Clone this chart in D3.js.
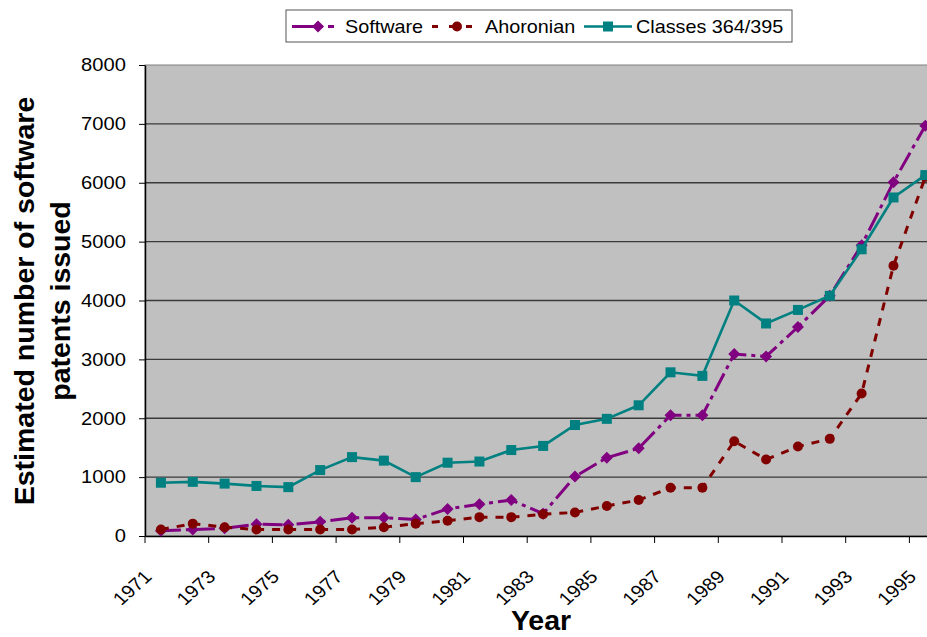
<!DOCTYPE html>
<html>
<head>
<meta charset="utf-8">
<script src="https://cdn.jsdelivr.net/npm/d3@7"></script>
<style>
  html, body { margin: 0; padding: 0; background: #ffffff; }
  svg { display: block; font-family: "Liberation Sans", Arial, sans-serif; }
</style>
</head>
<body>
<svg id="chart" width="927" height="637"></svg>
<script>
// ---- data ----
const years = [1971,1972,1973,1974,1975,1976,1977,1978,1979,1980,1981,1982,1983,1984,1985,1986,1987,1988,1989,1990,1991,1992,1993,1994,1995];
const software = [90,110,130,200,190,240,310,310,280,460,540,610,380,1010,1330,1490,2050,2050,3090,3050,3550,4080,4940,6010,6970];
const ahoronian = [110,210,150,110,110,110,110,150,210,260,320,320,370,400,510,610,820,820,1610,1300,1520,1650,2420,4590,6100];
const classes = [905,920,890,850,830,1120,1340,1280,1000,1245,1265,1460,1530,1885,1990,2220,2780,2720,4000,3610,3840,4080,4870,5750,6130];
const seriesNames = ["Software", "Ahoronian", "Classes 364/395"];
const yTicks = [0,1000,2000,3000,4000,5000,6000,7000,8000];
const xTickYears = [1971,1973,1975,1977,1979,1981,1983,1985,1987,1989,1991,1993,1995];

// ---- layout ----
const svg = d3.select("#chart");
const plotLeft = 145, plotTop = 65, plotBottom = 536;
const bandW = 31.85;
const plotRight = plotLeft + bandW * years.length;
const FONT = "'Liberation Sans', Arial, sans-serif";
const SX = 1.12; // horizontal widening of the small text

const x = d3.scaleBand().domain(years).range([plotLeft, plotRight]).paddingInner(0).paddingOuter(0);
const y = d3.scaleLinear().domain([0, 8000]).range([plotBottom, plotTop]);
const cx = d => x(d) + x.bandwidth() / 2;

// plot background
svg.append("rect").attr("x", plotLeft).attr("y", plotTop).attr("width", plotRight - plotLeft).attr("height", plotBottom - plotTop)
  .attr("fill", "#c0c0c0").attr("stroke", "#808080").attr("stroke-width", 1);

// gridlines
svg.append("g").selectAll("line").data(yTicks.filter(t => t > 0 && t < 8000)).join("line")
  .attr("x1", plotLeft).attr("x2", plotRight)
  .attr("y1", d => y(d)).attr("y2", d => y(d))
  .attr("stroke", "#3a3a3a").attr("stroke-width", 1.4);

// y axis
const yAxis = svg.append("g").attr("transform", `translate(${plotLeft},0)`)
  .call(d3.axisLeft(y).tickValues(yTicks).tickSize(6).tickPadding(11).tickSizeOuter(0).tickFormat(d3.format("d")));
yAxis.select(".domain").attr("stroke", "#000").attr("stroke-width", 1.5);
yAxis.selectAll(".tick line").attr("stroke", "#000");
yAxis.selectAll(".tick text").attr("font-size", 18).attr("fill", "#000")
  .attr("font-family", FONT).attr("transform", `scale(${SX},1)`);

// x axis
const xAxis = svg.append("g").attr("transform", `translate(0,${plotBottom})`)
  .call(d3.axisBottom(x).tickValues(xTickYears).tickSize(7).tickSizeOuter(0));
xAxis.select(".domain").attr("stroke", "#000").attr("stroke-width", 1.5);
xAxis.selectAll(".tick line").attr("stroke", "#000").attr("transform", `translate(${-x.bandwidth()/2},0)`);
xAxis.selectAll(".tick text")
  .attr("font-size", 18).attr("fill", "#000")
  .attr("font-family", FONT)
  .attr("text-anchor", "end")
  .attr("x", 0).attr("y", 0).attr("dy", 0)
  .attr("transform", `translate(-8,42) scale(${SX},1) rotate(-45)`);

// series
const lineGen = d3.line().x((d, i) => cx(years[i])).y(d => y(d));
const styles = [
  { data: software, color: "#800080", dash: "20,5,4,5", width: 3, marker: "diamond" },
  { data: ahoronian, color: "#800000", dash: "8,8", width: 3, marker: "circle" },
  { data: classes, color: "#008080", dash: null, width: 2.6, marker: "square" }
];
const diamondPath = s => `M0,${-s}L${s},0L0,${s}L${-s},0Z`;
function drawMarker(g, type, color) {
  if (type === "diamond") g.append("path").attr("d", diamondPath(6)).attr("fill", color);
  else if (type === "circle") g.append("circle").attr("r", 5).attr("fill", color);
  else g.append("rect").attr("x", -5).attr("y", -5).attr("width", 10).attr("height", 10).attr("fill", color);
}
styles.forEach(s => {
  svg.append("path").datum(s.data).attr("d", lineGen)
    .attr("fill", "none").attr("stroke", s.color).attr("stroke-width", s.width)
    .attr("stroke-dasharray", s.dash);
  svg.append("g").selectAll("g").data(s.data).join("g")
    .attr("transform", (d, i) => `translate(${cx(years[i])},${y(d)})`)
    .each(function() { drawMarker(d3.select(this), s.marker, s.color); });
});

// y label
const yl = svg.append("text").attr("transform", "translate(34,301) rotate(-90)")
  .attr("text-anchor", "middle").attr("font-size", 28.5).attr("font-weight", "bold").attr("fill", "#000")
  .attr("font-family", FONT);
yl.append("tspan").attr("x", 0).attr("dy", 0).text("Estimated number of software");
yl.append("tspan").attr("x", 0).attr("dy", 36).text("patents issued");

// x label
svg.append("text").attr("x", 541).attr("y", 630).attr("text-anchor", "middle")
  .attr("font-size", 28.5).attr("font-weight", "bold").attr("fill", "#000").attr("font-family", FONT).text("Year");

// legend
const lg = svg.append("g");
lg.append("rect").attr("x", 286).attr("y", 10).attr("width", 506).attr("height", 32)
  .attr("fill", "#fff").attr("stroke", "#555").attr("stroke-width", 1);
const legendItems = [
  { x1: 292, x2: 334, mx: 318, tx: 345 },
  { x1: 432, x2: 476, mx: 457, tx: 485 },
  { x1: 584, x2: 632, mx: 608, tx: 636 }
];
legendItems.forEach((it, i) => {
  const s = styles[i];
  lg.append("line").attr("x1", it.x1).attr("x2", it.x2).attr("y1", 26.5).attr("y2", 26.5)
    .attr("stroke", s.color).attr("stroke-width", s.width)
    .attr("stroke-dasharray", i === 0 ? "22,5,4,5" : (i === 1 ? "6,11" : null));
  const m = lg.append("g").attr("transform", `translate(${it.mx},26.5)`);
  drawMarker(m, s.marker, s.color);
  lg.append("text").attr("transform", `translate(${it.tx},33) scale(1.1,1)`)
    .attr("font-size", 18).attr("fill", "#000").attr("font-family", FONT).text(seriesNames[i]);
});
</script>
</body>
</html>
